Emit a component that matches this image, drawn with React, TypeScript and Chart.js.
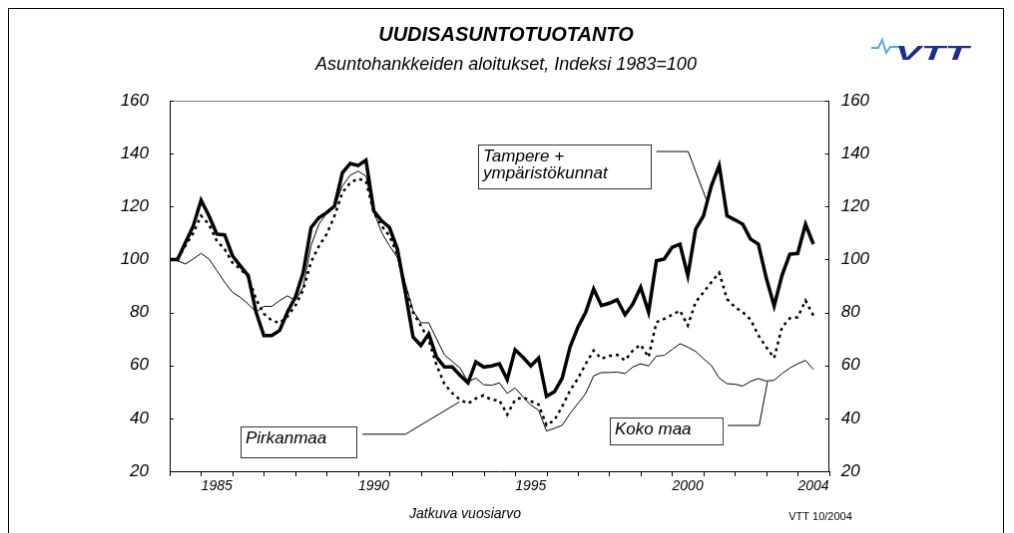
import React, { useEffect, useRef } from 'react';
import { Chart, registerables } from 'chart.js';

Chart.register(...registerables);

const FONT = '"Liberation Sans", Arial, Helvetica, sans-serif';

// Quarterly moving annual values (index 1983 = 100), 1983 Q4 ... 2004 Q2
const tampere = [
  100, 100, 106.4, 112.7, 122.4, 116.5, 109.6, 109.3, 101.4, 97.6,
  93.9, 80.1, 71.3, 71.3, 73.2, 80.1, 85.7, 95, 112, 115.8,
  117.7, 120.2, 132.8, 136.3, 135.5, 137.5, 118.3, 114.6, 112.1, 104,
  88, 70.7, 67.5, 71.9, 63.1, 59.4, 59.4, 56.2, 53.4, 61.3,
  59.4, 59.8, 60.6, 54.6, 65.9, 63.1, 59.8, 62.8, 48.3, 50,
  55.2, 66.9, 74.4, 80.1, 88.9, 82.6, 83.5, 84.8, 79.1, 83.2,
  89.5, 80.1, 99.5, 100.2, 104.6, 105.8, 93.9, 111.4, 116.5, 127.8,
  135.5, 116.5, 115, 113.3, 107.7, 105.8, 93, 82.5, 94, 102,
  102.3, 113.3, 105.8,
];

const pirkanmaa = [
  100, 100.5, 105.2, 110, 116.5, 113.3, 107, 103.9, 98.8, 96.4,
  93.4, 85, 79.5, 77, 76, 78.5, 82.5, 88.5, 99, 105,
  109.6, 116.5, 125.3, 129, 130.5, 129.6, 117.7, 112.7, 108.9, 102,
  90, 80, 75, 69.5, 60, 53, 49.5, 47, 45.6, 47.5,
  48.7, 47, 46.8, 41.4, 47, 48, 46.5, 45.2, 37.4, 39.3,
  44.5, 50.5, 55, 60.6, 65.6, 62.5, 63.6, 64, 61.9, 65.6,
  67.8, 63.1, 76.3, 77.6, 79.1, 80.7, 75.1, 83.9, 87.6, 91.4,
  95, 85.1, 82, 80.1, 77.3, 71.3, 66.9, 62.8, 74.4, 77.8,
  78.2, 84.5, 78.8,
];

const kokoMaa = [
  100, 99.5, 98.3, 100.2, 102.3, 100.2, 95.8, 91.4, 87.6, 85.7,
  83.2, 80.1, 82.3, 82.3, 84.5, 86.3, 84.5, 89.5, 105.2, 113.3,
  117.5, 120.2, 127.8, 131.8, 133.4, 131.5, 118, 110.2, 105.2, 100.8,
  91, 80.7, 76.1, 76.1, 70, 64, 61.5, 59, 53.8, 55.2,
  52.7, 52.5, 53.4, 49.4, 51.5, 48.1, 45, 43.1, 35.2, 36.2,
  37.4, 41.8, 45.6, 49.4, 56, 57.3, 57.3, 57.5, 56.9, 59.4,
  60.6, 59.8, 63.5, 63.8, 66, 68.2, 66.9, 65.3, 62.5, 60,
  55.2, 53.1, 52.9, 52.2, 54, 55, 54.1, 54.4, 56.9, 59,
  60.6, 61.9, 58.5,
];

// x-axis: quarter index; year labels sit mid-year, tick marks every 4 quarters
const yearLabelPos = [6, 26, 46, 66, 82];
const yearLabelText = ['1985', '1990', '1995', '2000', '2004'];
const xMin = 0;
const xMax = 84;
const xTickStep = 4;
const yMin = 20;
const yMax = 160;
const yStep = 20;

const titleText = 'UUDISASUNTOTUOTANTO';
const subtitleText = 'Asuntohankkeiden aloitukset, Indeksi 1983=100';
const xAxisTitle = 'Jatkuva vuosiarvo';
const sourceText = 'VTT 10/2004';

// Annotation boxes in data coordinates: [x0, yTop, x1, yBottom]
const annotations = [
  { lines: ['Tampere +', 'ympäristökunnat'], box: [39.33, 143.4, 61.22, 126.9], leader: [[62.0, 140.8], [66.05, 140.8], [68.35, 122.7]] },
  { lines: ['Pirkanmaa'], box: [9.04, 36.9, 23.8, 25.3], leader: [[24.56, 34.0], [30.04, 34.0], [36.9, 46.2]] },
  { lines: ['Koko maa'], box: [56.13, 40.3, 70.42, 30.3], leader: [[71.1, 37.3], [75.1, 37.3], [76.15, 53.8]] },
];

const toPoints = (arr: number[]) => arr.map((v, i) => ({ x: i, y: v }));

const decorPlugin = {
  id: 'decor',
  afterDraw(chart: any) {
    const { ctx, chartArea, scales } = chart;
    const xs = scales.x, ys = scales.y, ys2 = scales.y2;
    const W = chart.width;
    ctx.save();

    // top frame of plot area
    ctx.strokeStyle = '#808080';
    ctx.lineWidth = 1;
    ctx.beginPath();
    const ty = Math.round(chartArea.top) + 0.5;
    ctx.moveTo(chartArea.left, ty);
    ctx.lineTo(chartArea.right, ty);
    ctx.stroke();

    // inner tick marks on y axes
    ctx.strokeStyle = '#000';
    ys.ticks.forEach((t: any) => {
      const py = Math.round(ys.getPixelForValue(t.value)) + 0.5;
      ctx.beginPath();
      ctx.moveTo(chartArea.left, py);
      ctx.lineTo(chartArea.left + 4, py);
      ctx.stroke();
    });
    ys2.ticks.forEach((t: any) => {
      const py = Math.round(ys2.getPixelForValue(t.value)) + 0.5;
      ctx.beginPath();
      ctx.moveTo(chartArea.right, py);
      ctx.lineTo(chartArea.right - 4, py);
      ctx.stroke();
    });

    // outer tick marks on x axis (year boundaries)
    xs.ticks.forEach((t: any) => {
      if (t.value % xTickStep !== 0) return;
      const px = Math.round(xs.getPixelForValue(t.value)) + 0.5;
      ctx.beginPath();
      ctx.moveTo(px, chartArea.bottom);
      ctx.lineTo(px, chartArea.bottom + 5);
      ctx.stroke();
    });

    // annotations
    annotations.forEach((a) => {
      const x0 = Math.round(xs.getPixelForValue(a.box[0])) + 0.5;
      const y0 = Math.round(ys.getPixelForValue(a.box[1])) + 0.5;
      const x1 = Math.round(xs.getPixelForValue(a.box[2])) + 0.5;
      const y1 = Math.round(ys.getPixelForValue(a.box[3])) + 0.5;
      ctx.fillStyle = '#fff';
      ctx.fillRect(x0, y0, x1 - x0, y1 - y0);
      ctx.strokeStyle = '#333';
      ctx.lineWidth = 1;
      ctx.strokeRect(x0, y0, x1 - x0, y1 - y0);
      ctx.fillStyle = '#000';
      ctx.font = `italic 17px ${FONT}`;
      ctx.textAlign = 'left';
      ctx.textBaseline = 'alphabetic';
      a.lines.forEach((ln, k) => {
        ctx.fillText(ln, x0 + 4.5, y0 + 16 + k * 17.6);
      });
      ctx.strokeStyle = '#000';
      ctx.beginPath();
      a.leader.forEach((p, k) => {
        const px = xs.getPixelForValue(p[0]);
        const py = ys.getPixelForValue(p[1]);
        if (k === 0) ctx.moveTo(px, py); else ctx.lineTo(px, py);
      });
      ctx.stroke();
    });

    // titles
    ctx.fillStyle = '#000';
    ctx.textAlign = 'center';
    ctx.textBaseline = 'middle';
    ctx.font = `italic bold 20px ${FONT}`;
    ctx.fillText(titleText, W / 2, 26);
    ctx.font = `italic 18px ${FONT}`;
    ctx.fillText(subtitleText, W / 2, 56);

    // axis title & source
    ctx.font = `italic 14px ${FONT}`;
    ctx.fillText(xAxisTitle, 457, 507);
    ctx.font = `11px ${FONT}`;
    ctx.fillText(sourceText, 813, 510);

    // VTT logo
    ctx.strokeStyle = '#5aa6e6';
    ctx.lineWidth = 2;
    ctx.beginPath();
    ctx.moveTo(864, 39);
    ctx.lineTo(871, 39);
    ctx.lineTo(875, 31);
    ctx.lineTo(879, 44);
    ctx.lineTo(883, 38);
    ctx.lineTo(892, 38);
    ctx.stroke();
    ctx.save();
    ctx.translate(888, 51);
    ctx.scale(1.85, 1);
    ctx.fillStyle = '#1d2d8c';
    ctx.font = `italic bold 21px ${FONT}`;
    ctx.textAlign = 'left';
    ctx.textBaseline = 'alphabetic';
    ctx.fillText('VTT', 0, 0);
    ctx.restore();

    ctx.restore();
  },
};

export default function App() {
  const ref = useRef<HTMLCanvasElement | null>(null);

  useEffect(() => {
    if (!ref.current) return;
    const yTickCfg = {
      stepSize: yStep,
      color: '#000',
      font: { family: FONT, size: 17, style: 'italic' as const },
    };
    const chart = new Chart(ref.current, {
      type: 'line',
      data: {
        datasets: [
          {
            label: 'Tampere + ympäristökunnat',
            data: toPoints(tampere),
            borderColor: '#000',
            borderWidth: 3.5,
            pointRadius: 0,
            tension: 0,
            yAxisID: 'y',
          },
          {
            label: 'Pirkanmaa',
            data: toPoints(pirkanmaa),
            borderColor: '#000',
            borderWidth: 2.5,
            borderDash: [3, 4],
            pointRadius: 0,
            tension: 0,
            yAxisID: 'y',
          },
          {
            label: 'Koko maa',
            data: toPoints(kokoMaa),
            borderColor: '#000',
            borderWidth: 1,
            pointRadius: 0,
            tension: 0,
            yAxisID: 'y',
          },
        ],
      },
      options: {
        animation: false,
        responsive: false,
        devicePixelRatio: 1,
        layout: { padding: { top: 92, left: 0, right: 0, bottom: 0 } },
        plugins: {
          legend: { display: false },
          tooltip: { enabled: false },
          title: { display: false },
        },
        scales: {
          x: {
            type: 'linear',
            position: 'bottom',
            min: xMin,
            max: xMax,
            afterBuildTicks: (scale: any) => {
              const t: any[] = [];
              for (let v = xMin; v <= xMax; v += 2) t.push({ value: v });
              scale.ticks = t;
            },
            afterFit: (scale: any) => {
              scale.height = 66;
            },
            ticks: {
              autoSkip: false,
              maxRotation: 0,
              minRotation: 0,
              padding: 2,
              color: '#000',
              font: { family: FONT, size: 14, style: 'italic' },
              callback: (v: any) => {
                const k = yearLabelPos.indexOf(Number(v));
                return k >= 0 ? yearLabelText[k] : '';
              },
            },
            grid: {
              drawOnChartArea: false,
              tickLength: 5,
              tickColor: 'rgba(0,0,0,0)',
              color: 'rgba(0,0,0,0)',
            },
            border: { color: '#000', width: 1 },
          },
          y: {
            position: 'left',
            min: yMin,
            max: yMax,
            afterFit: (scale: any) => {
              scale.width = 161;
            },
            ticks: { ...yTickCfg, padding: 21 },
            grid: { drawOnChartArea: false, drawTicks: false },
            border: { color: '#000', width: 1 },
          },
          y2: {
            position: 'right',
            min: yMin,
            max: yMax,
            afterFit: (scale: any) => {
              scale.width = 174.3;
            },
            ticks: { ...yTickCfg, padding: 12 },
            grid: { drawOnChartArea: false, drawTicks: false },
            border: { color: '#000', width: 1 },
          },
        },
      },
      plugins: [decorPlugin],
    } as any);
    return () => chart.destroy();
  }, []);

  return (
    <div style={{ width: 998, height: 532 }}>
      <canvas
        ref={ref}
        width={996}
        height={530}
        style={{ display: 'block', border: '1px solid #000' }}
      />
    </div>
  );
}
